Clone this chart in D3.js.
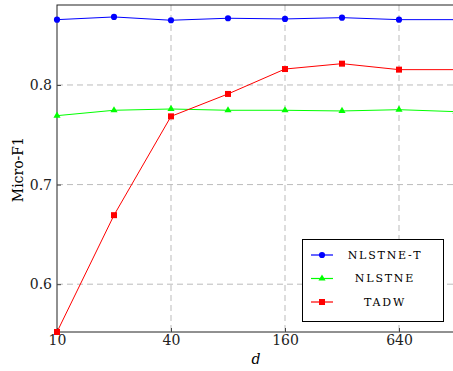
<!DOCTYPE html>
<html>
<head>
<meta charset="utf-8">
<script src="https://cdn.jsdelivr.net/npm/d3@7"></script>
<style>
  body { margin: 0; background: #fff; }
</style>
</head>
<body>
<script>
// dimensions d and the micro-F1 scores
var dims = [10, 20, 40, 80, 160, 320, 640, 1280];
var nlstneT = [0.8656, 0.8683, 0.8650, 0.8670, 0.8663, 0.8676, 0.8656, 0.8656];
var nlstne = [0.7692, 0.7746, 0.7759, 0.7746, 0.7746, 0.7739, 0.7752, 0.7732];
var tadw = [0.552, 0.6693, 0.7685, 0.7910, 0.8160, 0.8214, 0.8154, 0.8154];
var xTicks = [10, 40, 160, 640];
var yTicks = [0.6, 0.7, 0.8];
var seriesNames = ["NLSTNE-T", "NLSTNE", "TADW"];

var serif = "'DejaVu Serif', 'Liberation Serif', serif";
var width = 453, height = 371;
var margin = {top: 5, left: 57, bottom: 39};

var svg = d3.select("body").append("svg")
   .attr("width", width)
   .attr("height", height);

var x = d3.scaleLog().base(2)
   .domain([10, 1280])
   .range([margin.left, 456]);
var y = d3.scaleLinear()
   .domain([0.552, 0.8803])
   .range([height - margin.bottom, margin.top]);

var plotBottom = height - margin.bottom;

// grid
svg.append("g").selectAll("line").data(xTicks.slice(1)).enter().append("line")
   .attr("x1", function(d) { return x(d); }).attr("x2", function(d) { return x(d); })
   .attr("y1", margin.top).attr("y2", plotBottom)
   .attr("stroke", "#bbb").attr("stroke-dasharray", "6,4");
svg.append("g").selectAll("line").data(yTicks).enter().append("line")
   .attr("x1", margin.left).attr("x2", 456)
   .attr("y1", function(d) { return y(d); }).attr("y2", function(d) { return y(d); })
   .attr("stroke", "#bbb").attr("stroke-dasharray", "6,4");

// frame
svg.append("rect")
   .attr("x", margin.left).attr("y", margin.top)
   .attr("width", 456 - margin.left).attr("height", plotBottom - margin.top)
   .attr("fill", "none").attr("stroke", "#222").attr("stroke-width", 1);

// axes
var xAxis = svg.append("g")
   .attr("transform", "translate(0," + plotBottom + ")")
   .call(d3.axisBottom(x).tickValues(xTicks).tickFormat(d3.format("d")).tickSize(4).tickSizeOuter(0));
xAxis.select(".domain").remove();
xAxis.selectAll(".tick line").attr("y2", -4).attr("stroke", "#444");
xAxis.selectAll("text").attr("font-family", serif).attr("font-size", 14).attr("fill", "#222")
   .attr("y", 3).attr("dy", "0.71em");

var yAxis = svg.append("g")
   .attr("transform", "translate(" + margin.left + ",0)")
   .call(d3.axisLeft(y).tickValues(yTicks).tickFormat(d3.format(".1f")).tickSize(4).tickSizeOuter(0));
yAxis.select(".domain").remove();
yAxis.selectAll(".tick line").attr("x2", 4).attr("stroke", "#444");
yAxis.selectAll("text").attr("font-family", serif).attr("font-size", 14).attr("fill", "#222").attr("x", -5);

svg.append("text")
   .attr("x", 256).attr("y", 364)
   .attr("text-anchor", "middle")
   .attr("font-family", serif)
   .attr("font-size", 14).attr("font-style", "italic")
   .text("d");
svg.append("text")
   .attr("transform", "translate(23," + y(0.715) + ") rotate(-90)")
   .attr("text-anchor", "middle")
   .attr("font-family", serif)
   .attr("font-size", 14)
   .text("Micro-F1");

// series
var series = [
   {name: seriesNames[0], values: nlstneT, color: "#0000ff", shape: d3.symbolCircle, size: 30},
   {name: seriesNames[1], values: nlstne, color: "#00ff00", shape: d3.symbolTriangle, size: 22},
   {name: seriesNames[2], values: tadw, color: "#ff0000", shape: d3.symbolSquare, size: 36}
];

var line = d3.line()
   .x(function(d, i) { return x(dims[i]); })
   .y(function(d) { return y(d); });

series.forEach(function(s) {
   svg.append("path")
      .attr("d", line(s.values))
      .attr("fill", "none").attr("stroke", s.color).attr("stroke-width", 1);
   svg.append("g").selectAll("path").data(s.values).enter().append("path")
      .attr("transform", function(d, i) { return "translate(" + x(dims[i]) + "," + y(d) + ")"; })
      .attr("d", d3.symbol().type(s.shape).size(s.size))
      .attr("fill", s.color);
});

// legend
var lg = svg.append("g");
lg.append("rect")
   .attr("x", 302.5).attr("y", 239.5).attr("width", 141).attr("height", 82)
   .attr("fill", "#fff").attr("stroke", "#000").attr("stroke-width", 1);
series.forEach(function(s, i) {
   var cy = 255 + i * 23.5;
   lg.append("line")
      .attr("x1", 311).attr("x2", 333).attr("y1", cy).attr("y2", cy)
      .attr("stroke", s.color).attr("stroke-width", 1.2);
   lg.append("path")
      .attr("transform", "translate(322," + cy + ")")
      .attr("d", d3.symbol().type(s.shape).size(s.size))
      .attr("fill", s.color);
   lg.append("text")
      .attr("x", 385).attr("y", cy).attr("dy", "0.35em")
      .attr("text-anchor", "middle")
      .attr("font-family", serif)
      .attr("font-size", 11).attr("letter-spacing", "1.8px")
      .text(s.name);
});
</script>
</body>
</html>
